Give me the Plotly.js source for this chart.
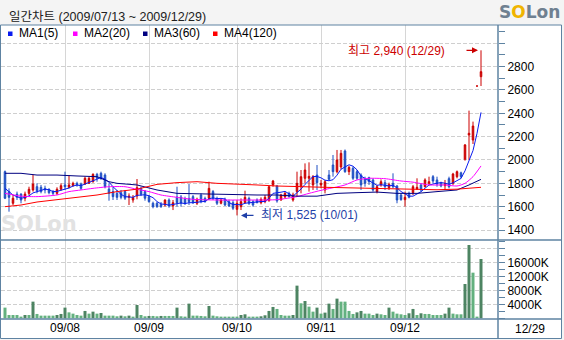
<!DOCTYPE html>
<html><head><meta charset="utf-8">
<script src="https://cdn.plot.ly/plotly-3.0.1.min.js"></script>
<style>html,body{margin:0;padding:0;background:#f4f4f4;}#chart{width:564px;height:340px;}</style>
</head><body><div id="chart"></div>
<script>
// ---- data ----
const dates = ['07/13','07/14','07/15','07/16','07/17','07/20','07/21','07/22','07/23','07/24','07/27','07/28','07/29','07/30','07/31',
'08/03','08/04','08/05','08/06','08/07','08/10','08/11','08/12','08/13','08/14','08/17','08/18','08/19','08/20','08/21','08/24','08/25','08/26','08/27','08/28','08/31',
'09/01','09/02','09/03','09/04','09/07','09/08','09/09','09/10','09/11','09/14','09/15','09/16','09/17','09/18','09/21','09/22','09/23','09/24','09/25','09/28','09/29','09/30',
'10/01','10/05','10/06','10/07','10/08','10/09','10/12','10/13','10/14','10/15','10/16','10/19','10/20','10/21','10/22','10/23','10/26','10/27','10/28','10/29','10/30',
'11/02','11/03','11/04','11/05','11/06','11/09','11/10','11/11','11/12','11/13','11/16','11/17','11/18','11/19','11/20','11/23','11/24','11/25','11/26','11/27','11/30',
'12/01','12/02','12/03','12/04','12/07','12/08','12/09','12/10','12/11','12/14','12/15','12/16','12/17','12/18','12/21','12/22','12/23','12/24','12/28','12/29'];

const open = [1900,1729,1629,1708,1708,1672,1714,1743,1771,1766, 1757,1749,1729,1714,1749,1786,1766,1780,1800,1794,
 1794,1800,1814,1877,1886,1871,1751,1729,1714,1720, 1729,1680,1657,1691,1757,1729,1686,1629,1629,1620,
 1614,1657,1606,1683,1683,1666,1671,1686,1629,1700, 1671,1671,1729,1671,1629,1663,1643,1634,1577,1600,
 1634,1671,1643,1657,1634,1643,1651,1786,1777,1657, 1683,1714,1657,1729,1771,1843,1843,1786,1871,1786,
 1743,1871,1957,1900,1940,2077,1900,1929,1900,1871, 1837,1849,1829,1729,1786,1806,1763,1800,1777,1700,
 1660,1714,1720,1751,1786,1771,1800,1857,1829,1800, 1780,1840,1800,1857,1890,2006,2214,2171,2634,2714];
const high = [1910,1757,1700,1729,1714,1729,1771,1874,1800,1786, 1780,1757,1743,1766,1800,1900,1871,1814,1814,1806,
 1857,1857,1886,1890,1900,1886,1800,1771,1743,1743, 1743,1714,1700,1837,1771,1743,1700,1643,1640,1640,
 1663,1671,1657,1771,1700,1686,1794,1700,1677,1714, 1686,1814,1743,1686,1671,1677,1660,1657,1657,1671,
 1737,1686,1657,1671,1680,1700,1777,1829,1786,1710, 1729,1729,1720,1900,1914,1971,1980,1871,1957,1829,
 1829,1914,2043,2086,2086,2090,1950,1943,1914,1886, 1857,1857,1843,1786,1834,1829,1806,1886,1786,1714,
 1729,1729,1786,1843,1800,1843,1857,1871,1857,1814, 1829,1857,1890,1910,1900,2137,2423,2329,2634,2940];
const low = [1665,1557,1614,1657,1629,1646,1700,1729,1714,1714, 1714,1706,1700,1700,1737,1743,1757,1771,1771,1743,
 1786,1794,1806,1814,1829,1757,1651,1657,1657,1663, 1657,1614,1634,1663,1691,1651,1634,1586,1590,1590,
 1600,1591,1571,1600,1600,1614,1614,1623,1614,1629, 1634,1657,1657,1614,1620,1606,1597,1571,1525,1571,
 1629,1614,1600,1629,1620,1629,1643,1771,1634,1651, 1671,1680,1643,1686,1714,1800,1729,1743,1743,1757,
 1714,1829,1857,1886,1920,1890,1871,1829,1829,1743, 1771,1786,1729,1714,1771,1743,1743,1757,1629,1651,
 1600,1671,1700,1743,1729,1766,1786,1800,1771,1766, 1743,1757,1786,1843,1843,1994,2000,2137,2634,2634];
const close = [1672,1680,1672,1680,1657,1708,1749,1794,1737,1729, 1743,1720,1714,1749,1780,1771,1786,1800,1786,1757,
 1843,1843,1877,1843,1843,1771,1714,1686,1680,1680, 1672,1690,1680,1763,1706,1672,1643,1600,1600,1600,
 1657,1606,1634,1634,1629,1629,1643,1634,1663,1643, 1643,1757,1671,1629,1657,1614,1606,1586,1629,1643,
 1680,1629,1614,1634,1663,1680,1771,1820,1649,1700, 1714,1686,1700,1800,1857,1914,1860,1857,1806,1800,
 1814,1834,1900,2000,2057,1900,1937,1843,1843,1786, 1800,1814,1743,1771,1814,1771,1791,1771,1657,1660,
 1680,1680,1771,1766,1743,1829,1814,1820,1794,1777, 1800,1771,1880,1900,1857,2129,2229,2291,2634,2757];
// volume in thousands of shares (K)
const volume = [3050,950,950,950,480,950,950,4760,1240,760, 760,760,760,950,1240,3050,1700,1330,950,760,
 2100,1330,1900,1330,1520,760,760,760,570,760, 570,760,480,3800,950,570,670,670,570,670,
 670,670,670,3050,570,480,4190,760,760,670, 570,3520,760,570,480,480,480,480,480,950,
 1140,480,480,480,570,860,2100,3240,2670,950, 760,760,950,9330,4290,4950,3330,1900,3050,1330,
 1620,4190,2670,5620,4760,4760,2100,1240,1700,2100, 1330,1330,950,1330,1140,950,3050,1900,1330,1140,
 950,1430,2670,950,1430,1240,1240,950,950,950, 1330,3050,1330,1140,1140,9800,20950,13040,480,16950];
// moving averages
const ma1 = [1757,1729,1700,1686,1672,1679,1693,1718,1729,1743, 1750,1745,1729,1731,1741,1747,1760,1777,1785,1780,
 1794,1806,1821,1833,1850,1835,1810,1771,1739,1706, 1686,1682,1680,1697,1702,1702,1693,1677,1644,1623,
 1620,1613,1619,1626,1632,1626,1634,1634,1640,1642, 1645,1668,1675,1669,1671,1666,1635,1618,1618,1616,
 1629,1633,1639,1640,1644,1644,1672,1714,1717,1724, 1731,1714,1690,1720,1751,1791,1826,1858,1859,1847,
 1827,1822,1831,1870,1921,1938,1959,1947,1916,1862, 1842,1817,1797,1783,1788,1783,1778,1784,1761,1730,
 1712,1690,1690,1711,1728,1758,1785,1794,1800,1807, 1801,1792,1804,1826,1842,1907,1999,2081,2228,2408];
const ma2Day = [0,4,8,13,16,19,22,26,30,33,36,39,43,47,53,58,63,68,73,76,79,85,88,91,95,99,102,106,110,113,115,117,119];
const ma2 = [1714,1690,1686,1700,1729,1743,1757,1771,1771,1749,1729,1700,1680,1663,1657,1657,1657,1660,1686,1714,1740,1786,1829,1843,1840,1820,1810,1786,1786,1777,1800,1857,1949];
const ma3Day = [0,4,8,13,18,23,26,28,33,38,43,48,53,58,63,68,73,78,83,88,93,98,103,108,113,116,119];
const ma3 = [1886,1886,1871,1871,1863,1857,1814,1800,1786,1743,1714,1709,1709,1700,1700,1700,1690,1690,1714,1720,1725,1714,1714,1729,1743,1786,1834];
const ma4Day = [0,4,8,13,18,23,28,33,38,43,48,53,58,63,68,73,80,88,93,98,103,108,113,116,119];
const ma4 = [1600,1614,1640,1663,1680,1700,1729,1750,1791,1806,1814,1800,1790,1786,1777,1771,1766,1760,1757,1749,1745,1745,1750,1757,1766];

const monthTicks = ['08/03','09/01','10/01','11/02','12/01'];
const monthLabels = ['09/08','09/09','09/10','09/11','09/12'];
const priceTicks = [1400,1600,1800,2000,2200,2400,2600,2800,3000];
const priceLabels = ['1400','1600','1800','2000','2200','2400','2600','2800',''];
const volTicks = [4000,8000,12000,16000,20000];
const volLabels = ['4000K','8000K','12000K','16000K',''];
const maNames = ['MA1(5)','MA2(20)','MA3(60)','MA4(120)'];

// ---- style ----
const UP='#cc0000', DOWN='#1f4fc4', FRAME='#5e83a2', GRID='#cfcfcf';
const MA_COLORS=['#0a1cf0','#ff00ff','#000080','#ff0000'];
const VOL_DARK='#4d8462', VOL_LIGHT='#63b17f';
const FONT='Liberation Sans, Arial, Noto Sans CJK KR, sans-serif';
const W=564,H=340,ML=1,MR=66,MT=25,MB=21;
const PW=W-ML-MR, PH=H-MT-MB;
const X=px=>(px-ML)/PW, Y=py=>(H-MB-py)/PH;
const split=Y(240);

const pick=(days)=>days.map(i=>dates[i]);
const traces=[
 {type:'candlestick',x:dates,open:open,high:high,low:low,close:close,xaxis:'x',yaxis:'y',
  increasing:{line:{color:UP,width:1},fillcolor:UP},decreasing:{line:{color:DOWN,width:1},fillcolor:DOWN},
  whiskerwidth:0,hoverinfo:'skip',showlegend:false},
 {type:'scatter',mode:'lines',x:dates,y:ma1,line:{color:MA_COLORS[0],width:1},yaxis:'y',hoverinfo:'skip',showlegend:false},
 {type:'scatter',mode:'lines',x:pick(ma2Day),y:ma2,line:{color:MA_COLORS[1],width:1,shape:'spline',smoothing:0.6},yaxis:'y',hoverinfo:'skip',showlegend:false},
 {type:'scatter',mode:'lines',x:pick(ma3Day),y:ma3,line:{color:MA_COLORS[2],width:1},yaxis:'y',hoverinfo:'skip',showlegend:false},
 {type:'scatter',mode:'lines',x:pick(ma4Day),y:ma4,line:{color:MA_COLORS[3],width:1},yaxis:'y',hoverinfo:'skip',showlegend:false},
 {type:'bar',x:dates,y:volume,yaxis:'y2',hoverinfo:'skip',showlegend:false,
  marker:{color:volume.map((v,i)=>i>0&&v>volume[i-1]?VOL_DARK:VOL_LIGHT),line:{width:0}}}
];

const hiVal=Math.max(...high), hiIdx=high.indexOf(hiVal);
const loVal=Math.min(...low), loIdx=low.indexOf(loVal);
const fmt=v=>v.toLocaleString('en-US');

const shapes=[
 {type:'rect',xref:'paper',yref:'paper',x0:X(0),x1:X(562),y0:Y(338),y1:Y(25),fillcolor:'#ffffff',line:{width:0},layer:'below'},
 {type:'rect',xref:'paper',yref:'paper',x0:X(0.5),x1:X(561.5),y0:Y(338.5),y1:Y(25),line:{color:FRAME,width:1},layer:'above'},
 {type:'line',xref:'paper',yref:'paper',x0:1,x1:1,y0:Y(338.5),y1:Y(25),line:{color:FRAME,width:1.5},layer:'above'},
 {type:'line',xref:'paper',yref:'paper',x0:X(0.5),x1:X(561.5),y0:split,y1:split,line:{color:FRAME,width:1.5},layer:'above'},
 {type:'line',xref:'paper',yref:'paper',x0:X(0.5),x1:X(561.5),y0:0,y1:0,line:{color:FRAME,width:1.5},layer:'above'}
];
const legX=[8,73,143,213];
maNames.forEach((n,k)=>{
 shapes.push({type:'rect',xref:'paper',yref:'paper',x0:X(legX[k]),x1:X(legX[k]+4.5),y0:Y(36),y1:Y(31.5),fillcolor:MA_COLORS[k],line:{width:0},layer:'above'});
});

const annotations=[
 {xref:'paper',yref:'paper',x:X(7),y:Y(17),xanchor:'left',yanchor:'middle',showarrow:false,
  text:'일간차트 (2009/07/13 ~ 2009/12/29)',font:{family:FONT,size:12.5,color:'#222'}},
 {xref:'paper',yref:'paper',x:X(529),y:Y(12),xanchor:'center',yanchor:'middle',showarrow:false,
  text:"<b>S<span style='color:#f0b400'>O</span>Lon</b>",font:{family:'DejaVu Sans, sans-serif',size:17,color:'#6f8090'}},
 {xref:'paper',yref:'paper',x:X(39),y:Y(224),xanchor:'center',yanchor:'middle',showarrow:false,
  text:'<b>SOLon</b>',font:{family:'DejaVu Sans, sans-serif',size:21,color:'#e2e2e2'}},
 {xref:'paper',yref:'paper',x:X(530),y:Y(329),xanchor:'center',yanchor:'middle',showarrow:false,
  text:dates[dates.length-1],font:{family:FONT,size:12,color:'#000'}},
 {x:dates[hiIdx],y:hiVal,xref:'x',yref:'y',showarrow:false,xanchor:'right',yanchor:'middle',xshift:-34,yshift:-1,
  text:'최고 '+fmt(hiVal)+' ('+dates[hiIdx]+')',font:{family:FONT,size:12,color:'#cc0000'}},
 {x:dates[hiIdx],y:hiVal,xref:'x',yref:'y',showarrow:true,text:'',ax:-16,ay:0,arrowhead:2,arrowsize:1,arrowwidth:1.2,arrowcolor:'#cc0000',standoff:3},
 {x:dates[loIdx],y:loVal,xref:'x',yref:'y',showarrow:false,xanchor:'left',yanchor:'middle',xshift:22,yshift:0,
  text:'최저 '+fmt(loVal)+' ('+dates[loIdx]+')',font:{family:FONT,size:12,color:'#1f3fa8'}},
 {x:dates[loIdx],y:loVal,xref:'x',yref:'y',showarrow:true,text:'',ax:18,ay:0,arrowhead:2,arrowsize:1,arrowwidth:1.2,arrowcolor:'#1f3fa8',standoff:4}
];
maNames.forEach((n,k)=>{
 annotations.push({xref:'paper',yref:'paper',x:X(legX[k]+9),y:Y(33.5),xanchor:'left',yanchor:'middle',showarrow:false,
  text:n,font:{family:FONT,size:12,color:'#000'}});
});

const layout={
 width:W,height:H,margin:{l:ML,r:MR,t:MT,b:MB,pad:0},
 paper_bgcolor:'#f4f4f4',plot_bgcolor:'#ffffff',showlegend:false,
 boxgap:0.45,bargap:0.25,
 font:{family:FONT,size:12,color:'#000'},
 xaxis:{type:'category',range:[-1,123.25],anchor:'y2',rangeslider:{visible:false},
  tickmode:'array',tickvals:monthTicks,ticktext:monthLabels,ticks:'',showgrid:true,gridcolor:'#d6d6d6',gridwidth:1,
  showline:false,zeroline:false,tickfont:{family:FONT,size:12,color:'#000'},fixedrange:true},
 yaxis:{domain:[split,1],range:[1314.3,3157],side:'right',anchor:'x',tickmode:'array',tickvals:priceTicks,ticktext:priceLabels,
  ticks:'outside',ticklen:6,tickcolor:FRAME,tickwidth:1,showgrid:true,gridcolor:GRID,griddash:'4px,2px',
  minor:{dtick:100,tick0:0,ticks:'outside',ticklen:6,tickcolor:FRAME,showgrid:false},
  showline:false,zeroline:false,tickfont:{family:FONT,size:12,color:'#000'}},
 yaxis2:{domain:[0,split],range:[-200,22371],side:'right',anchor:'x',tickmode:'array',tickvals:volTicks,ticktext:volLabels,
  ticks:'outside',ticklen:6,tickcolor:FRAME,tickwidth:1,showgrid:true,gridcolor:GRID,griddash:'4px,2px',
  minor:{dtick:2000,tick0:0,ticks:'outside',ticklen:6,tickcolor:FRAME,showgrid:false},
  showline:false,zeroline:false,tickfont:{family:FONT,size:12,color:'#000'}},
 shapes:shapes,annotations:annotations
};
Plotly.newPlot('chart',traces,layout,{staticPlot:true,displayModeBar:false});
</script></body></html>
